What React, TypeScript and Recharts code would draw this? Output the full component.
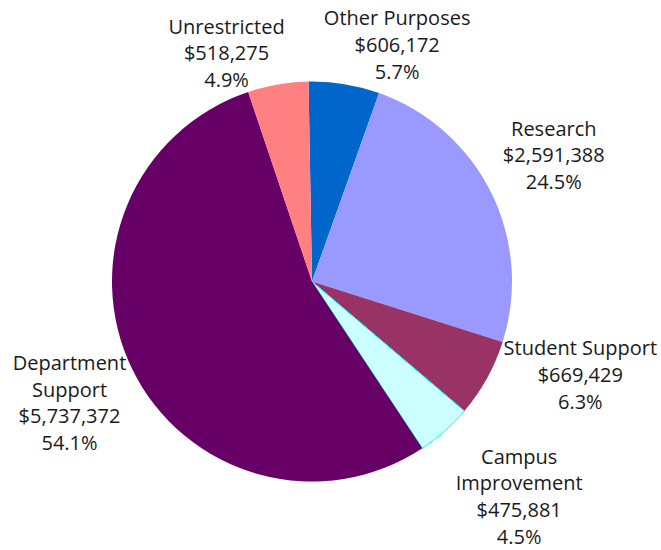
import React from 'react';
import { PieChart, Pie, Cell } from 'recharts';

const categories = ['Other Purposes', 'Research', 'Student Support', 'Campus Improvement', 'Department Support', 'Unrestricted'];
const labelLines = [['Other Purposes'], ['Research'], ['Student Support'], ['Campus', 'Improvement'], ['Department', 'Support'], ['Unrestricted']];
const amounts = [606172, 2591388, 669429, 475881, 5737372, 518275];
const percents = ['5.7%', '24.5%', '6.3%', '4.5%', '54.1%', '4.9%'];
const amountLabels = ['$606,172', '$2,591,388', '$669,429', '$475,881', '$5,737,372', '$518,275'];

const colors = ['#0066CC', '#9999FF', '#993366', '#CCFFFF', '#660066', '#FF8080'];
const strokes = ['none', 'none', 'none', '#00FFFF', 'none', 'none'];
const nudges: [number, number][] = [[43, 20], [8, -11], [40, -34], [34, 19], [-8, 6], [-41, 28]];

const data = categories.map((name, i) => ({ name, value: amounts[i], idx: i }));

const RAD = Math.PI / 180;
const LINE_H = 26.7;

const renderLabel = (props: any) => {
  const { cx, cy, midAngle, outerRadius, index } = props;
  const r = outerRadius + 61;
  const x = cx + r * Math.cos(-midAngle * RAD) + nudges[index][0];
  const y = cy + r * Math.sin(-midAngle * RAD) + nudges[index][1];
  const lines = [...labelLines[index], amountLabels[index], percents[index]];
  const startY = y - ((lines.length - 1) * LINE_H) / 2;
  return (
    <text
      key={`lbl-${index}`}
      x={x}
      y={startY}
      textAnchor="middle"
      dominantBaseline="central"
      fill="#1a1a1a"
      fontSize={20}
      fontFamily="'Open Sans', sans-serif"
    >
      {lines.map((ln, j) => (
        <tspan key={j} x={x} y={startY + j * LINE_H}>
          {ln}
        </tspan>
      ))}
    </text>
  );
};

export default function App() {
  return (
    <div style={{ position: 'absolute', left: 0, top: 0, width: 661, height: 550, background: '#fff' }}>
      <PieChart width={661} height={550} margin={{ top: 0, right: 0, bottom: 0, left: 0 }}>
        <Pie
          data={data}
          dataKey="value"
          nameKey="name"
          cx={312}
          cy={281.5}
          outerRadius={200}
          startAngle={91}
          endAngle={-269}
          label={renderLabel}
          labelLine={false}
          isAnimationActive={false}
        >
          {data.map((d, i) => (
            <Cell key={d.name} fill={colors[i]} stroke={strokes[i]} strokeWidth={1} />
          ))}
        </Pie>
      </PieChart>
    </div>
  );
}
